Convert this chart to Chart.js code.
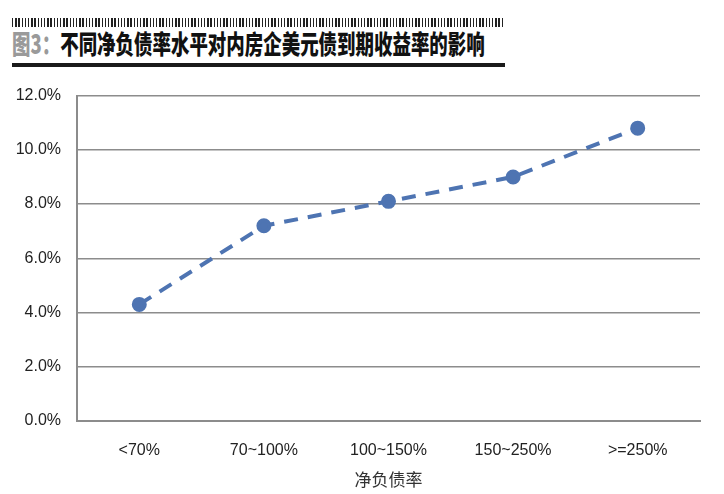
<!DOCTYPE html>
<html>
<head>
<meta charset="utf-8">
<script src="https://cdn.jsdelivr.net/npm/chart.js@4"></script>
<style>
  body { margin: 0; background: #fff; width: 724px; height: 494px; overflow: hidden; position: relative; }
  #hatch { position: absolute; left: 12px; top: 18px; width: 492px; height: 9px;
    background: repeating-linear-gradient(90deg, #222 0 1.5px, transparent 1.5px 3.2px); }
  #title { position: absolute; left: 12px; top: 27px; white-space: nowrap;
    font-family: "Noto Sans CJK SC", sans-serif; font-weight: 900; font-size: 26px; line-height: 32px;
    transform: scaleX(0.71); transform-origin: 0 0; color: #111; }
  #title span { color: #9a9a9a; }
  #rule { position: absolute; left: 12px; top: 63px; width: 493px; height: 4px; background: #1a1a1a; }
  #wrap { position: absolute; left: 0; top: 70px; width: 724px; height: 424px; }
</style>
</head>
<body>
<div id="hatch"></div>
<div id="title"><span>图3：</span>不同净负债率水平对内房企美元债到期收益率的影响</div>
<div id="rule"></div>
<div id="wrap"><canvas id="myChart"></canvas></div>
<script>
// Data
var categories = ["<70%", "70~100%", "100~150%", "150~250%", ">=250%"];
var yieldValues = [4.3, 7.2, 8.1, 9.0, 10.8];
var yTicks = [0, 2, 4, 6, 8, 10, 12];

var lineColor = "#4e74b2";
var gridColor = "#8c8c8c";

new Chart("myChart", {
  type: "line",
  data: {
    labels: categories,
    datasets: [{
      data: yieldValues,
      borderColor: lineColor,
      backgroundColor: lineColor,
      borderWidth: 4,
      borderDash: [14, 10],
      pointRadius: 5.5,
      pointHoverRadius: 5.5,
      tension: 0
    }]
  },
  options: {
    responsive: true,
    maintainAspectRatio: false,
    animation: false,
    layout: { padding: { top: 24, right: 24, left: 0, bottom: 0 } },
    plugins: { legend: { display: false }, tooltip: { enabled: false } },
    scales: {
      x: {
        offset: true,
        grid: { display: false },
        border: { display: true, color: gridColor, width: 2 },
        ticks: { color: "#222", padding: 12, font: { family: "Liberation Sans", size: 16 } },
        title: { display: true, text: "净负债率", color: "#333", padding: { top: 2 },
                 font: { family: "Noto Sans CJK SC", size: 17 } },
        afterFit: function (s) { s.height = 73; }
      },
      y: {
        min: 0,
        max: 12,
        afterBuildTicks: function (s) { s.ticks = yTicks.map(function (v) { return { value: v }; }); },
        grid: { color: gridColor, lineWidth: 1.5, drawTicks: false },
        border: { display: true, color: gridColor, width: 2 },
        ticks: {
          color: "#222",
          padding: 16,
          font: { family: "Liberation Sans", size: 16 },
          callback: function (v) { return v.toFixed(1) + "%"; }
        },
        afterFit: function (s) { s.width = 77; }
      }
    }
  }
});
</script>
</body>
</html>
